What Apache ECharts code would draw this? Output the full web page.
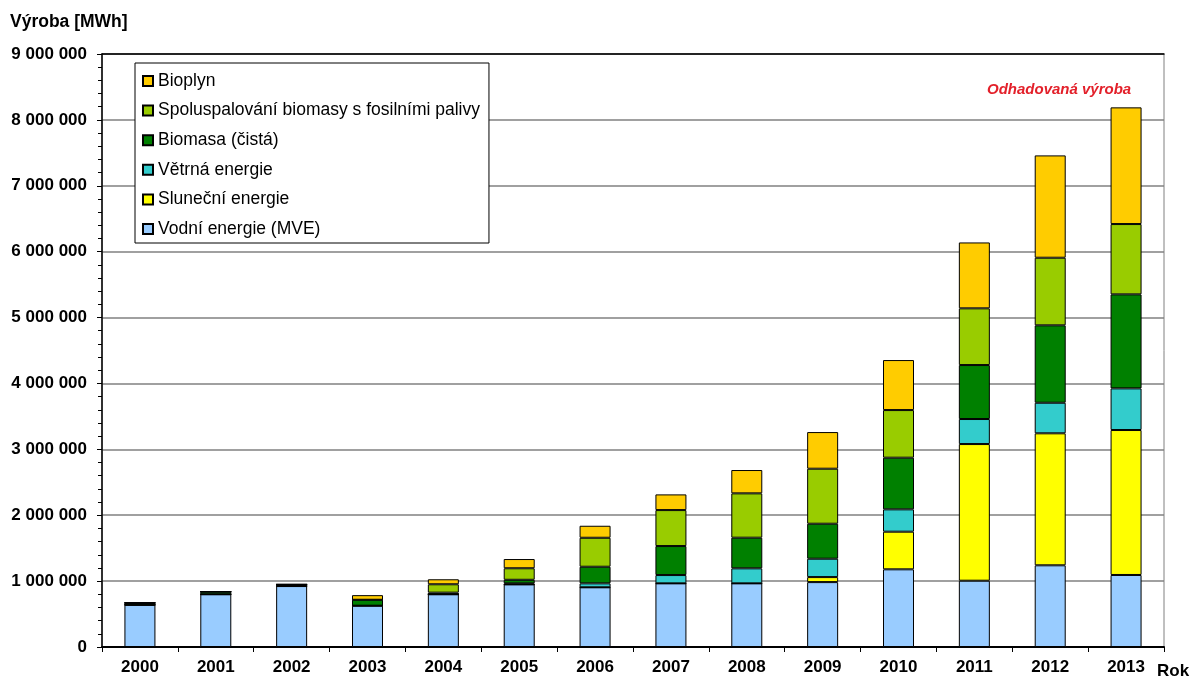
<!DOCTYPE html>
<html>
<head>
<meta charset="utf-8">
<script src="https://cdn.jsdelivr.net/npm/echarts@6/dist/echarts.min.js"></script>
<style>
  html, body { margin: 0; padding: 0; background: #fff; }
  #chart { width: 1192px; height: 679px; }
</style>
</head>
<body>
<div id="chart"></div>
<script>
// roky a vyroba [MWh]
var years = ['2000', '2001', '2002', '2003', '2004', '2005', '2006', '2007', '2008', '2009', '2010', '2011', '2012', '2013'];
var vodni    = [640000, 800000, 925000, 627000, 800000, 950000, 906000, 966000, 966000, 985000, 1179000, 1006000, 1240000, 1093000];
var slunecni = [0, 0, 0, 0, 0, 0, 0, 0, 0, 76000, 571000, 2074000, 2003000, 2200000];
var vetrna   = [0, 0, 0, 0, 0, 15000, 60000, 126000, 228000, 279000, 339000, 380000, 464000, 632000];
var biomasa  = [30000, 40000, 25000, 90000, 25000, 55000, 252000, 440000, 465000, 531000, 784000, 819000, 1175000, 1427000];
var spolu    = [0, 0, 0, 0, 127000, 175000, 440000, 546000, 673000, 835000, 723000, 861000, 1026000, 1067000];
var bioplyn  = [0, 0, 0, 70000, 76000, 140000, 182000, 238000, 354000, 556000, 759000, 1000000, 1553000, 1771000];

var seriesNames = ['Vodní energie (MVE)', 'Sluneční energie', 'Větrná energie', 'Biomasa (čistá)', 'Spoluspalování biomasy s fosilními palivy', 'Bioplyn'];
var seriesColors = ['#99CCFF', '#FFFF00', '#33CCCC', '#008000', '#99CC00', '#FFCC00'];
var seriesData = [vodni, slunecni, vetrna, biomasa, spolu, bioplyn];

var FONT = '"Liberation Sans", Arial, sans-serif';

function fmt(v) {
  return String(v).replace(/\B(?=(\d{3})+(?!\d))/g, ' ');
}

var chart = echarts.init(document.getElementById('chart'));

var series = seriesNames.map(function (name, i) {
  return {
    name: name,
    type: 'bar',
    stack: 'vyroba',
    barWidth: 31,
    data: seriesData[i],
    itemStyle: {
      color: seriesColors[i],
      borderColor: '#000',
      borderWidth: 1
    }
  };
});

chart.setOption({
  animation: false,
  textStyle: { fontFamily: FONT },
  title: {
    text: 'Výroba [MWh]',
    left: 5,
    top: 8,
    textStyle: { fontFamily: FONT, fontSize: 17.5, fontWeight: 'bold', color: '#000' }
  },
  grid: {
    left: 102,
    right: 28,
    top: 54,
    bottom: 32,
    show: true,
    borderColor: '#808080',
    borderWidth: 1
  },
  legend: {
    orient: 'vertical',
    left: 135,
    top: 63,
    data: seriesNames.slice().reverse(),
    itemWidth: 10,
    itemHeight: 10,
    itemGap: 9.6,
    icon: 'rect',
    padding: [8, 9, 4, 7],
    backgroundColor: '#fff',
    borderColor: '#000',
    borderWidth: 1,
    textStyle: { fontFamily: FONT, fontSize: 17.5, color: '#000', lineHeight: 20 }
  },
  xAxis: [{
    type: 'category',
    data: years,
    axisLine: { lineStyle: { color: '#000', width: 2 } },
    axisTick: { show: true, length: 5, lineStyle: { color: '#000', width: 1 } },
    axisLabel: { margin: 12, fontFamily: FONT, fontSize: 17, fontWeight: 'bold', color: '#000' }
  }, {
    type: 'category',
    position: 'top',
    data: years,
    axisLine: { lineStyle: { color: '#000', width: 1.5 } },
    axisTick: { show: false },
    axisLabel: { show: false }
  }],
  yAxis: {
    type: 'value',
    min: 0,
    max: 9000000,
    interval: 1000000,
    axisLine: { show: true, lineStyle: { color: '#000', width: 1.5 } },
    axisTick: { show: true, length: 5, lineStyle: { color: '#000' } },
    minorTick: { show: true, splitNumber: 5, length: 4, lineStyle: { color: '#000' } },
    splitLine: { show: true, lineStyle: { color: '#808080', width: 1.5 } },
    axisLabel: {
      margin: 15,
      fontFamily: FONT,
      fontSize: 17,
      fontWeight: 'bold',
      color: '#000',
      formatter: fmt
    }
  },
  graphic: [{
    type: 'text',
    left: 987,
    top: 82,
    style: {
      text: 'Odhadovaná výroba',
      font: 'italic bold 15px ' + FONT,
      fill: '#E3202A'
    }
  }, {
    type: 'text',
    left: 1157,
    top: 663,
    style: {
      text: 'Rok',
      font: 'bold 17px ' + FONT,
      fill: '#000'
    }
  }],
  series: series
});
</script>
</body>
</html>
